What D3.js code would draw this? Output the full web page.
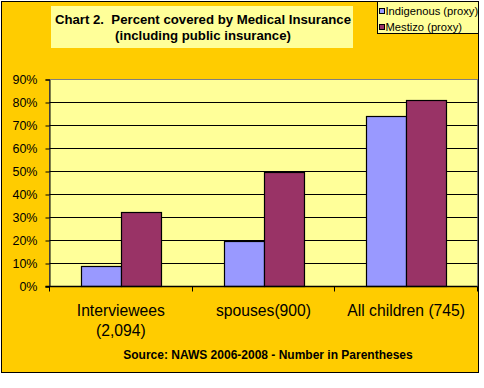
<!DOCTYPE html>
<html>
<head>
<meta charset="utf-8">
<script src="https://cdn.jsdelivr.net/npm/d3@7/dist/d3.min.js"></script>
<style>
  html, body { margin: 0; padding: 0; background: #ffffff; }
  svg { display: block; }
  text { font-family: "Liberation Sans", Arial, sans-serif; }
</style>
</head>
<body>
<svg id="chart" width="484" height="388"></svg>
<script>
const categories = ["Interviewees (2,094)", "spouses(900)", "All children (745)"];
const categoryLines = [["Interviewees", "(2,094)"], ["spouses(900)"], ["All children (745)"]];
const seriesNames = ["Indigenous (proxy)", "Mestizo (proxy)"];
const indigenous = [0.091, 0.197, 0.743];
const mestizo = [0.322, 0.50, 0.809];
const yTicks = [0, 0.1, 0.2, 0.3, 0.4, 0.5, 0.6, 0.7, 0.8, 0.9];
const titleLines = ["Chart 2.  Percent covered by Medical Insurance", "(including public insurance)"];
const sourceText = "Source: NAWS 2006-2008 - Number in Parentheses";
const colors = ["#9999FF", "#993366"];

(function () {
const svg = d3.select("#chart");

// chart area
svg.append("rect").attr("x", 1.5).attr("y", 1.5).attr("width", 477).attr("height", 371)
  .attr("fill", "#FFCC00").attr("stroke", "#000").attr("stroke-width", 1);

const pLeft = 49.5, pRight = 477.5, pTop = 79.5, pBottom = 286.5;

const y = d3.scaleLinear().domain([0, 0.9]).range([pBottom, pTop]);
const x = d3.scaleBand().domain(categories).range([pLeft, pRight])
  .paddingInner(0.4393).paddingOuter(0.4393 / 2);
const xs = d3.scaleBand().domain(seriesNames).range([0, x.bandwidth()]);

// plot area
svg.append("rect").attr("x", pLeft).attr("y", pTop).attr("width", pRight - pLeft).attr("height", pBottom - pTop)
  .attr("fill", "#FFFF99").attr("stroke", "#808080").attr("stroke-width", 1);

// gridlines
svg.append("g").selectAll("line").data(yTicks.filter(t => t > 0 && t < 0.9)).join("line")
  .attr("x1", pLeft).attr("x2", pRight)
  .attr("y1", d => Math.round(y(d) - 0.5) + 0.5).attr("y2", d => Math.round(y(d) - 0.5) + 0.5)
  .attr("stroke", "#000").attr("stroke-width", 1);

// bars
const series = [indigenous, mestizo];
const barData = [];
categories.forEach((c, i) => {
  seriesNames.forEach((s, j) => barData.push({ c, s, v: series[j][i], color: colors[j] }));
});
svg.append("g").selectAll("rect").data(barData).join("rect")
  .attr("x", d => Math.round(x(d.c) + xs(d.s)) + 0.5)
  .attr("y", d => Math.round(y(d.v)) + 0.5)
  .attr("width", xs.bandwidth())
  .attr("height", d => pBottom - (Math.round(y(d.v)) + 0.5))
  .attr("fill", d => d.color).attr("stroke", "#000").attr("stroke-width", 1.2);

// y axis
const yAxis = d3.axisLeft(y).tickValues(yTicks).tickFormat(d3.format(".0%")).tickSizeOuter(0).tickSize(4).tickPadding(8);
const gy = svg.append("g").attr("transform", `translate(${pLeft},0)`).call(yAxis);
gy.select(".domain").attr("stroke", "#000");
gy.selectAll("text").attr("font-size", "12.5px").attr("fill", "#000")
  .attr("font-family", "'Liberation Sans', Arial, sans-serif");
gy.selectAll(".tick line").attr("stroke", "#000");

// x axis
const boundaries = [0, 1, 2, 3].map(i => pLeft + i * x.step());
svg.append("line").attr("x1", pLeft - 4).attr("x2", pRight).attr("y1", pBottom).attr("y2", pBottom)
  .attr("stroke", "#000").attr("stroke-width", 1.5);
svg.append("g").selectAll("line").data(boundaries).join("line")
  .attr("x1", d => Math.round(d - 0.5) + 0.5).attr("x2", d => Math.round(d - 0.5) + 0.5)
  .attr("y1", pBottom).attr("y2", pBottom + 5)
  .attr("stroke", "#000").attr("stroke-width", 1);

// x labels
const xl = svg.append("g").selectAll("text").data(categories).join("text")
  .attr("text-anchor", "middle").attr("font-size", "15.7px").attr("fill", "#000")
  .attr("x", d => x(d) + x.bandwidth() / 2).attr("y", 316);
xl.each(function(d, i) {
  const t = d3.select(this);
  categoryLines[i].forEach((ln, k) => {
    t.append("tspan").attr("x", x(d) + x.bandwidth() / 2).attr("dy", k === 0 ? 0 : 20).text(ln);
  });
});

// title box
svg.append("rect").attr("x", 51).attr("y", 6).attr("width", 302).attr("height", 42).attr("fill", "#FFFF99");
svg.append("g").selectAll("text").data(titleLines).join("text")
  .attr("x", 203).attr("y", (d, i) => 24 + i * 16)
  .attr("text-anchor", "middle").attr("font-size", "13.2px").attr("font-weight", "bold")
  .style("white-space", "pre").attr("fill", "#000").text(d => d);

// legend
svg.append("clipPath").attr("id", "legclip").append("rect")
  .attr("x", 377.5).attr("y", 1).attr("width", 100.5).attr("height", 33);
svg.append("rect").attr("x", 377.5).attr("y", 1.5).attr("width", 101).attr("height", 32)
  .attr("fill", "#FFFF99").attr("stroke", "#000").attr("stroke-width", 1);
const leg = svg.append("g").attr("clip-path", "url(#legclip)");
seriesNames.forEach((s, j) => {
  leg.append("rect").attr("x", 379.5).attr("y", 8.5 + j * 16).attr("width", 5).attr("height", 5)
    .attr("fill", colors[j]).attr("stroke", "#000").attr("stroke-width", 1);
  leg.append("text").attr("x", 385.5).attr("y", 15 + j * 16).attr("font-size", "11.2px")
    .attr("fill", "#000").text(s);
});

// source
svg.append("text").attr("x", 268).attr("y", 358.5).attr("text-anchor", "middle")
  .attr("font-size", "12px").attr("font-weight", "bold").attr("fill", "#000").text(sourceText);
})();
</script>
</body>
</html>
